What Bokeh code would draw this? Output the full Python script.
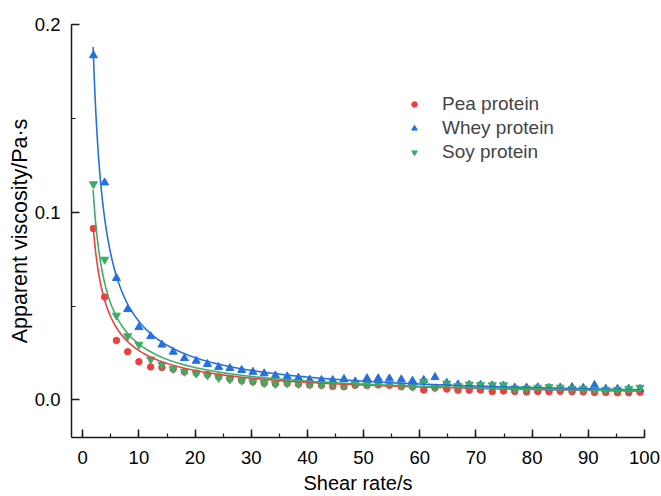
import numpy as np
from bokeh.plotting import figure
from bokeh.models import SingleIntervalTicker, PrintfTickFormatter, Legend, LegendItem
from bokeh.embed import file_html
from bokeh.resources import INLINE

# ---- data ----
shear_rate = [1.9, 3.9, 6.0, 8.0, 10.0, 12.1, 14.1, 16.1, 18.1, 20.2,
              22.2, 24.2, 26.2, 28.3, 30.3, 32.3, 34.3, 36.4, 38.4, 40.4,
              42.5, 44.5, 46.5, 48.5, 50.6, 52.6, 54.6, 56.7, 58.7, 60.7,
              62.7, 64.8, 66.8, 68.8, 70.8, 72.9, 74.9, 76.9, 79.0, 81.0,
              83.0, 85.0, 87.1, 89.1, 91.1, 93.1, 95.2, 97.2, 99.2]

pea = [0.0913, 0.0548, 0.0317, 0.0257, 0.0204, 0.0176, 0.0173, 0.0164, 0.0150, 0.0143,
       0.0135, 0.0122, 0.0112, 0.0103, 0.0097, 0.0089, 0.0086, 0.0088, 0.0084, 0.0080,
       0.0078, 0.0072, 0.0071, 0.0078, 0.0077, 0.0080, 0.0078, 0.0071, 0.0069, 0.0053,
       0.0064, 0.0058, 0.0052, 0.0052, 0.0053, 0.0045, 0.0048, 0.0045, 0.0043, 0.0045,
       0.0044, 0.0046, 0.0044, 0.0043, 0.0040, 0.0040, 0.0038, 0.0038, 0.0041]

whey = [0.1835, 0.1158, 0.0649, 0.0483, 0.0387, 0.0339, 0.0294, 0.0256, 0.0222, 0.0208,
        0.0191, 0.0175, 0.0169, 0.0159, 0.0149, 0.0141, 0.0130, 0.0125, 0.0118, 0.0108,
        0.0106, 0.0105, 0.0111, 0.0098, 0.0115, 0.0115, 0.0114, 0.0109, 0.0102, 0.0106,
        0.0121, 0.0091, 0.0082, 0.0081, 0.0080, 0.0077, 0.0076, 0.0066, 0.0066, 0.0067,
        0.0064, 0.0066, 0.0068, 0.0064, 0.0079, 0.0059, 0.0059, 0.0059, 0.0058]

soy = [0.1150, 0.0748, 0.0450, 0.0340, 0.0295, 0.0216, 0.0188, 0.0166, 0.0151, 0.0141,
       0.0131, 0.0118, 0.0110, 0.0103, 0.0098, 0.0090, 0.0086, 0.0089, 0.0086, 0.0082,
       0.0082, 0.0081, 0.0076, 0.0085, 0.0082, 0.0085, 0.0084, 0.0076, 0.0071, 0.0098,
       0.0066, 0.0088, 0.0075, 0.0083, 0.0080, 0.0079, 0.0079, 0.0062, 0.0061, 0.0066,
       0.0069, 0.0066, 0.0059, 0.0059, 0.0055, 0.0055, 0.0055, 0.0059, 0.0066]

series_names = ["Pea protein", "Whey protein", "Soy protein"]

# fitted power-law curves eta = K * rate^(n-1), parameters read from the drawn fits
pea_fit_K, pea_fit_exp = 0.1465, -0.745
whey_fit_K, whey_fit_exp = 0.325, -0.89
soy_fit_K, soy_fit_exp = 0.1814, -0.785

RED, BLUE, GREEN = "#EC4040", "#2470DD", "#3BAE66"
FONT = "Liberation Sans"

p = figure(width=661, height=496, x_range=(-2, 100), y_range=(-0.02, 0.2),
           output_backend="svg", toolbar_location=None,
           min_border_left=71, min_border_right=17, min_border_top=24, min_border_bottom=59)
p.xgrid.visible = False
p.ygrid.visible = False
p.outline_line_color = None
p.background_fill_color = "white"
p.border_fill_color = "white"

p.xaxis.ticker = SingleIntervalTicker(interval=10, num_minor_ticks=2)
p.yaxis.ticker = SingleIntervalTicker(interval=0.1, num_minor_ticks=2)
p.yaxis.formatter = PrintfTickFormatter(format="%.1f")
p.xaxis.axis_label = "Shear rate/s"
p.yaxis.axis_label = "Apparent viscosity/Pa·s"

for ax in (p.xaxis[0], p.yaxis[0]):
    ax.major_tick_in = 8
    ax.major_tick_out = 0
    ax.minor_tick_in = 4
    ax.minor_tick_out = 0
    ax.axis_line_width = 1.5
    ax.axis_line_color = "#1a1a1a"
    ax.major_tick_line_color = "#1a1a1a"
    ax.minor_tick_line_color = "#1a1a1a"
    ax.major_tick_line_width = 1.5
    ax.minor_tick_line_width = 1.2
    ax.major_label_text_font = FONT
    ax.major_label_text_font_size = "18.5px"
    ax.major_label_text_color = "black"
    ax.axis_label_text_font = FONT
    ax.axis_label_text_font_style = "normal"
    ax.axis_label_text_color = "black"

p.xaxis.axis_label_text_font_size = "20px"
p.yaxis.axis_label_text_font_size = "21.5px"
p.xaxis.major_label_standoff = 13
p.xaxis.axis_label_standoff = 5
p.yaxis.major_label_standoff = 11
p.yaxis.axis_label_standoff = 0

r_pea = p.scatter(shear_rate, pea, marker="circle", size=6.5, color=RED)
r_whey = p.scatter(shear_rate, whey, marker="triangle", size=8, color=BLUE)
r_soy = p.scatter(shear_rate, soy, marker="inverted_triangle", size=8, color=GREEN)

xs = np.linspace(shear_rate[0] - 0.05, shear_rate[-1], 600)
p.line(xs, pea_fit_K * xs ** pea_fit_exp, line_color=RED, line_width=1.6)
p.line(xs, whey_fit_K * xs ** whey_fit_exp, line_color=BLUE, line_width=1.6)
p.line(xs, soy_fit_K * xs ** soy_fit_exp, line_color=GREEN, line_width=1.6)

legend = Legend(items=[LegendItem(label=series_names[0], renderers=[r_pea]),
                       LegendItem(label=series_names[1], renderers=[r_whey]),
                       LegendItem(label=series_names[2], renderers=[r_soy])],
                location=(336, 274), margin=0, padding=0, spacing=2,
                glyph_width=14, glyph_height=20, label_height=20, label_standoff=21,
                label_text_font=FONT, label_text_font_size="19px",
                border_line_color=None, background_fill_alpha=0)
p.add_layout(legend, "center")

open("out.html", "w").write(file_html(p, INLINE))
